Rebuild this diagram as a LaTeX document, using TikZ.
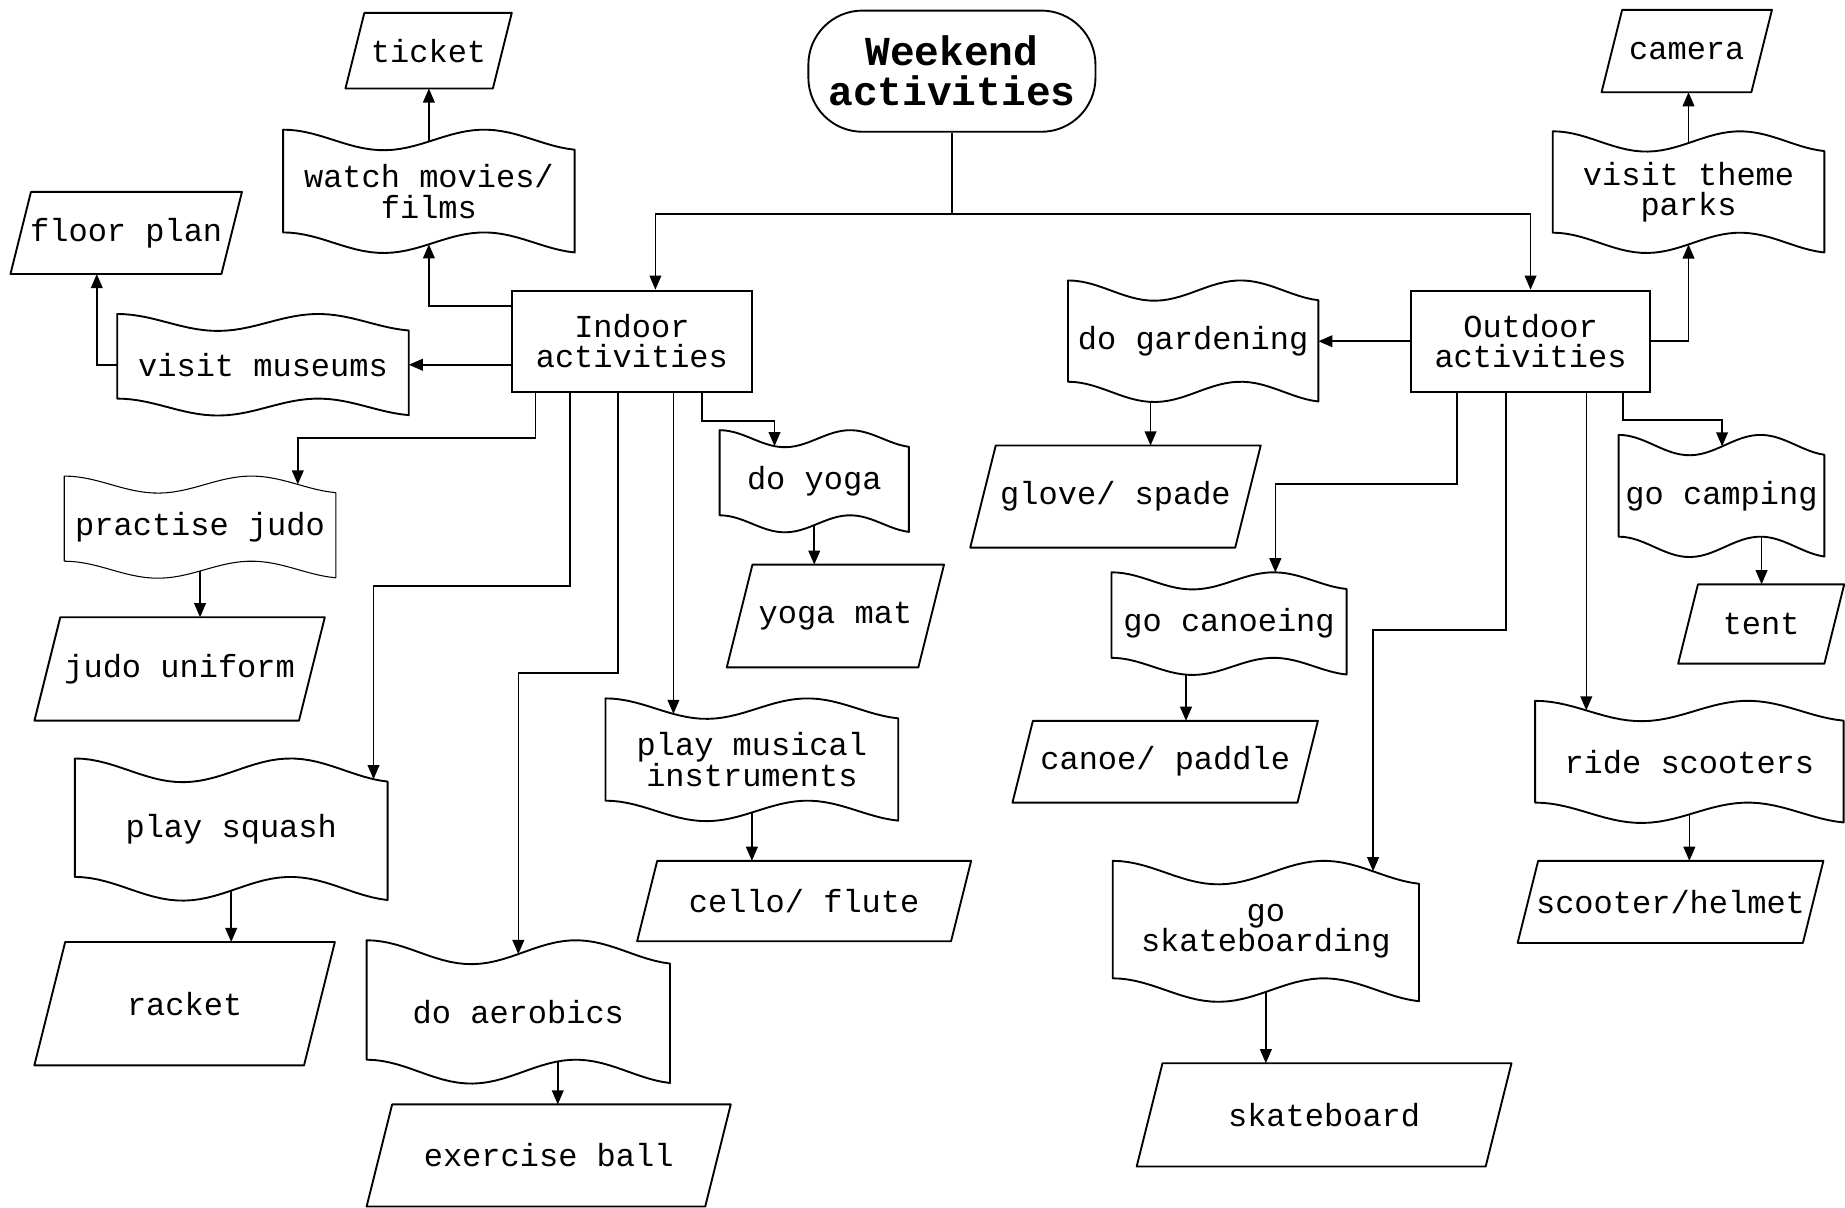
\documentclass[tikz,border=0pt]{standalone}
\usepackage{fontspec}
\setmonofont{Liberation Mono}
\usetikzlibrary{arrows.meta,calc}

% wave offset (0..1) along the top/bottom edge of a tape box
\pgfmathdeclarefunction{wavey}{1}{\pgfmathparse{0.5*(1-cos(522*#1))}}
\newcommand\topport[2]{\coordinate (#1-top) at ($(#1.north west)!#2!(#1.north east)+{wavey(#2)/6}*(#1.south west)-{wavey(#2)/6}*(#1.north west)$);}
\newcommand\botport[2]{\coordinate (#1-bot) at ($(#1.south west)!#2!(#1.south east)+{(1-wavey(#2))/6}*(#1.north west)-{(1-wavey(#2))/6}*(#1.south west)$);}

\tikzset{
  every node/.style={font=\ttfamily\fontsize{13.6}{13}\selectfont, align=center, inner sep=0pt},
  dims/.style 2 args={minimum width=#1, minimum height=#2},
  rect/.style={draw, line width=0.8pt},
  term/.style={draw, line width=0.8pt, rounded corners=23pt,
    font=\ttfamily\bfseries\fontsize{17.5}{17}\selectfont},
  outline/.style={line width=0.8pt, line join=round},
  arr/.style={line width=0.65pt, -{Triangle[length=6pt,width=5pt]}},
}

\begin{document}
\begin{tikzpicture}[x=0.5pt, y=-0.5pt]
        \useasboundingbox (0,0) rectangle (1568,1026);

        % main boxes
        \node[term, dims={122pt}{51.5pt}] (weekend) at (809,60.5) {Weekend\\activities};
        \node[rect, dims={102pt}{43pt}] (indoor) at (537,290) {Indoor\\activities};
        \node[rect, dims={101.25pt}{43pt}] (outdoor) at (1300.75,290) {Outdoor\\activities};

        % tape boxes
        \node[dims={123.5pt}{52pt}] (movies) at (364.5,162.6) {watch movies/\\films};
        \node[dims={123.5pt}{42.75pt}] (museums) at (223.5,310) {visit museums};
        \node[dims={115pt}{43pt}] (judo) at (170,448) {practise judo};
        \node[dims={132.5pt}{60pt}] (squash) at (196.5,705) {play squash};
        \node[dims={128.5pt}{60.5pt}] (aerobics) at (440.5,860) {do aerobics};
        \node[dims={124pt}{51.75pt}] (musical) at (639,645.7) {play musical\\instruments};
        \node[dims={80pt}{43pt}] (yoga) at (692,409) {do yoga};
        \node[dims={106pt}{51.25pt}] (garden) at (1014,290) {do gardening};
        \node[dims={115pt}{51.3pt}] (parks) at (1435,163.3) {visit theme\\parks};
        \node[dims={99.5pt}{43.2pt}] (canoeing) at (1044.5,530) {go canoeing};
        \node[dims={129.75pt}{59.5pt}] (skate) at (1075.8,791.5) {go\\skateboarding};
        \node[dims={87pt}{51.5pt}] (camping) at (1463,421.5) {go camping};
        \node[dims={130.7pt}{51.5pt}] (scooters) at (1435.7,647.5) {ride scooters};

        % data boxes
        \node[dims={62.25pt}{31.7pt}] (ticket) at (364.25,43.1) {ticket};
        \node[dims={89.25pt}{34.5pt}] (floor) at (107.25,198) {floor plan};
        \node[dims={112pt}{43.5pt}] (uniform) at (152.65,568.5) {judo uniform};
        \node[dims={114.2pt}{52pt}] (racket) at (156.9,853) {racket};
        \node[dims={143.5pt}{43pt}] (ball) at (466.3,982) {exercise ball};
        \node[dims={81pt}{43.25pt}] (mat) at (710,523.5) {yoga mat};
        \node[dims={133pt}{33.75pt}] (cello) at (683.4,765.75) {cello/ flute};
        \node[dims={112.2pt}{43pt}] (glove) at (948,422) {glove/ spade};
        \node[dims={120.7pt}{34.35pt}] (paddle) at (990.25,647.35) {canoe/ paddle};
        \node[dims={147.9pt}{43.5pt}] (skateboard) at (1125.3,947.5) {skateboard};
        \node[dims={63.25pt}{34.6pt}] (camera) at (1433.5,43.4) {camera};
        \node[dims={120.8pt}{34.5pt}] (helmet) at (1419.7,766.5) {scooter/helmet};
        \node[dims={61.75pt}{33.3pt}] (tent) at (1496.75,530.3) {tent};

        \foreach \nd/\lw in {movies/0.8pt,museums/0.8pt,judo/0.45pt,squash/0.8pt,aerobics/0.8pt,
            musical/0.8pt,yoga/0.8pt,garden/0.8pt,parks/0.8pt,canoeing/0.8pt,skate/0.8pt,
            camping/0.8pt,scooters/0.8pt}
          \draw[outline, line width=\lw] (\nd.north west)
            \foreach \k in {1,...,40} {-- ($(\nd.north west)!{\k/40}!(\nd.north east)+{wavey(\k/40)/6}*(\nd.south west)-{wavey(\k/40)/6}*(\nd.north west)$)}
            \foreach \k in {40,39,...,0} {-- ($(\nd.south west)!{\k/40}!(\nd.south east)+{(1-wavey(\k/40))/6}*(\nd.north west)-{(1-wavey(\k/40))/6}*(\nd.south west)$)}
            -- cycle;

        \foreach \nd in {ticket,floor,uniform,racket,ball,mat,cello,glove,paddle,skateboard,camera,helmet,tent}
          \draw[outline] let \p1=(\nd.north west), \p2=(\nd.south east), \n1={(\y1-\y2)/8} in
            ({\x1+\n1},\y1) -- ({\x2+\n1},\y1) -- ({\x2-\n1},\y2) -- ({\x1-\n1},\y2) -- cycle;

        % ports on the wavy edges
        \foreach \nd/\f in {movies/0.5,parks/0.5,judo/0.86,squash/0.955,aerobics/0.5,musical/0.232,
            yoga/0.29,canoeing/0.697,skate/0.85,scooters/0.166,camping/0.503}
          {\topport{\nd}{\f}}
        \foreach \nd/\f in {movies/0.5,parks/0.5,judo/0.5,squash/0.5,aerobics/0.63,musical/0.5,
            yoga/0.5,garden/0.33,canoeing/0.317,skate/0.5,scooters/0.5,camping/0.695}
          {\botport{\nd}{\f}}

        % top split
        \coordinate (split) at ($(weekend.south)+(0,69)$);
        \draw[line width=0.65pt] (weekend.south) -- (split);
        \draw[arr] (split) -| ([xshift=10pt]indoor.north);
        \draw[arr] (split) -| (outdoor.north);

        % indoor
        \draw[arr] ([yshift=-7pt]indoor.north west) -| (movies-bot);
        \draw[arr] (movies-top) -- (movies-top |- ticket.south);
        \draw[arr] (indoor.west |- museums.east) -- (museums.east);
        \draw[arr] (museums.west) -| ([xshift=-12.5pt]floor.south);
        \draw[arr] ($(indoor.south west)+(21,0)$) -- ++(0,38.4) -| (judo-top);
        \draw[arr] (judo-bot) -- (judo-bot |- uniform.north);
        \draw[arr] ($(indoor.south west)+(50,0)$) -- ++(0,164) -| (squash-top);
        \draw[arr] (squash-bot) -- (squash-bot |- racket.north);
        \draw[arr] ($(indoor.south west)+(91,0)$) -- ++(0,238) -| (aerobics-top);
        \draw[arr] (aerobics-bot) -- (aerobics-bot |- ball.north);
        \draw[arr] (musical-top |- indoor.south) -- (musical-top);
        \draw[arr] (musical-bot) -- (musical-bot |- cello.north);
        \draw[arr] ($(indoor.south west)+(162.5,0)$) -- ++(0,24) -| (yoga-top);
        \draw[arr] (yoga-bot) -- (yoga-bot |- mat.north);

        % outdoor
        \draw[arr] (outdoor.west) -- (garden.east);
        \draw[arr] (garden-bot) -- (garden-bot |- glove.north);
        \draw[arr] (outdoor.east) -| (parks-bot);
        \draw[arr] (parks-top) -- (parks-top |- camera.south);
        \draw[arr] ($(outdoor.south west)+(39.5,0)$) -- ++(0,77.4) -| (canoeing-top);
        \draw[arr] (canoeing-bot) -- (canoeing-bot |- paddle.north);
        \draw[arr] ($(outdoor.south west)+(81.1,0)$) -- ++(0,201.6) -| (skate-top);
        \draw[arr] (skate-bot) -- (skate-bot |- skateboard.north);
        \draw[arr] (scooters-top |- outdoor.south) -- (scooters-top);
        \draw[arr] (scooters-bot) -- (scooters-bot |- helmet.north);
        \draw[arr] ($(outdoor.south west)+(180.5,0)$) -- ++(0,23) -| (camping-top);
        \draw[arr] (camping-bot) -- (camping-bot |- tent.north);
\end{tikzpicture}
\end{document}
